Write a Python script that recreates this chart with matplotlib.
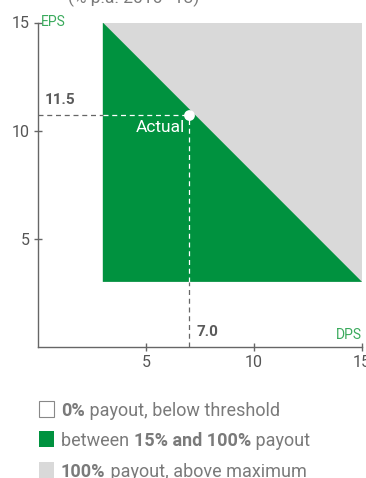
import matplotlib.pyplot as plt
from matplotlib.patches import Rectangle, Polygon

plt.rcParams['font.family'] = ['Roboto', 'DejaVu Sans']

# ---- data ----
x_range = [3.0, 15.0]          # DPS range of the payout zone
y_range = [3.0, 15.0]          # EPS range of the payout zone
actual_dps = 7.0
actual_eps = 10.7
eps_label = "11.5"
dps_label = "7.0"
ticks = [5, 10, 15]

GREEN = "#00923f"
LIGHT = "#d9d9d9"
GREY = "#666666"
TXT = "#7a7a7a"

fig = plt.figure(figsize=(3.66, 4.78), dpi=100)
ax = fig.add_axes([38 / 366, 131.3 / 478, 324 / 366, 324.2 / 478])
ax.set_xlim(0, 15)
ax.set_ylim(0, 15)

# grey zone (above maximum) and green triangle (between threshold and max)
ax.add_patch(Rectangle((x_range[0], y_range[0]), x_range[1] - x_range[0],
                       y_range[1] - y_range[0], facecolor=LIGHT, edgecolor="none", zorder=1))
ax.add_patch(Polygon([(x_range[0], y_range[0]), (x_range[0], y_range[1]),
                      (x_range[1], y_range[0])], closed=True,
                     facecolor=GREEN, edgecolor="none", zorder=2))

# dashed guides to the actual point
dash = dict(lw=0.9, dashes=(4, 3))
ax.plot([0, x_range[0]], [actual_eps, actual_eps], color=GREY, zorder=3, **dash)
ax.plot([x_range[0], actual_dps], [actual_eps, actual_eps], color="white", zorder=3, **dash)
ax.plot([actual_dps, actual_dps], [y_range[0], actual_eps], color="white", zorder=3, **dash)
ax.plot([actual_dps, actual_dps], [0, y_range[0]], color=GREY, zorder=3, **dash)
ax.scatter([actual_dps], [actual_eps], s=60, color="white", zorder=4, linewidths=0)

ax.text(actual_dps - 0.2, actual_eps - 0.2, "Actual", color="white",
        fontsize=12.5, ha="right", va="top", zorder=5)
ax.text(0.3, actual_eps + 0.4, eps_label, color="#5a5a5a", fontsize=11,
        fontweight="bold", ha="left", va="bottom")
ax.text(actual_dps + 0.35, 0.35, dps_label, color="#5a5a5a", fontsize=11,
        fontweight="bold", ha="left", va="bottom")
ax.text(0.15, 15, "EPS", color="#3aaa5c", fontsize=10, ha="left", va="center")
ax.text(15, 0.2, "DPS", color="#3aaa5c", fontsize=10, ha="right", va="bottom")

for s in ["top", "right"]:
    ax.spines[s].set_visible(False)
for s in ["left", "bottom"]:
    ax.spines[s].set_color(GREY)
    ax.spines[s].set_linewidth(1.0)
ax.set_xticks(ticks)
ax.set_yticks(ticks)
ax.set_xticklabels([str(t) for t in ticks])
ax.set_yticklabels([str(t) for t in ticks])
ax.tick_params(direction="inout", length=6, width=1, color=GREY,
               labelcolor="#555555", labelsize=11.5, pad=3)
for lab in ax.get_xticklabels():
    lab.set_clip_on(False)

# title, cut off at the top
fig.text(68 / 366, 1 - 3.5 / 478, "(% p.a. 2016\u201318)", color=TXT,
         fontsize=12.5, ha="left", va="baseline")

# legend with mixed regular / bold text
legend_rows = [
    ("white", [("0%", "bold"), (" payout, below threshold", "normal")]),
    (GREEN, [("between ", "normal"), ("15% and 100%", "bold"), (" payout", "normal")]),
    (LIGHT, [("100%", "bold"), (" payout, above maximum", "normal")]),
]
row_base = [416, 446, 477]

fig.canvas.draw()
renderer = fig.canvas.get_renderer()
for (color, parts), yp in zip(legend_rows, row_base):
    edge = "#888888" if color == "white" else "none"
    fig.patches.append(Rectangle((38.5 / 366, 1 - (yp + 0.5) / 478), 15.5 / 366, 15.5 / 478,
                                 facecolor=color, edgecolor=edge, lw=0.8,
                                 transform=fig.transFigure, figure=fig))
    xpx = 61
    for txt, weight in parts:
        t = fig.text(xpx / 366, 1 - yp / 478, txt, color=TXT, fontsize=13,
                     fontweight=weight, ha="left", va="baseline")
        bb = t.get_window_extent(renderer=renderer)
        xpx += bb.width

fig.savefig("out.png", dpi=100)
